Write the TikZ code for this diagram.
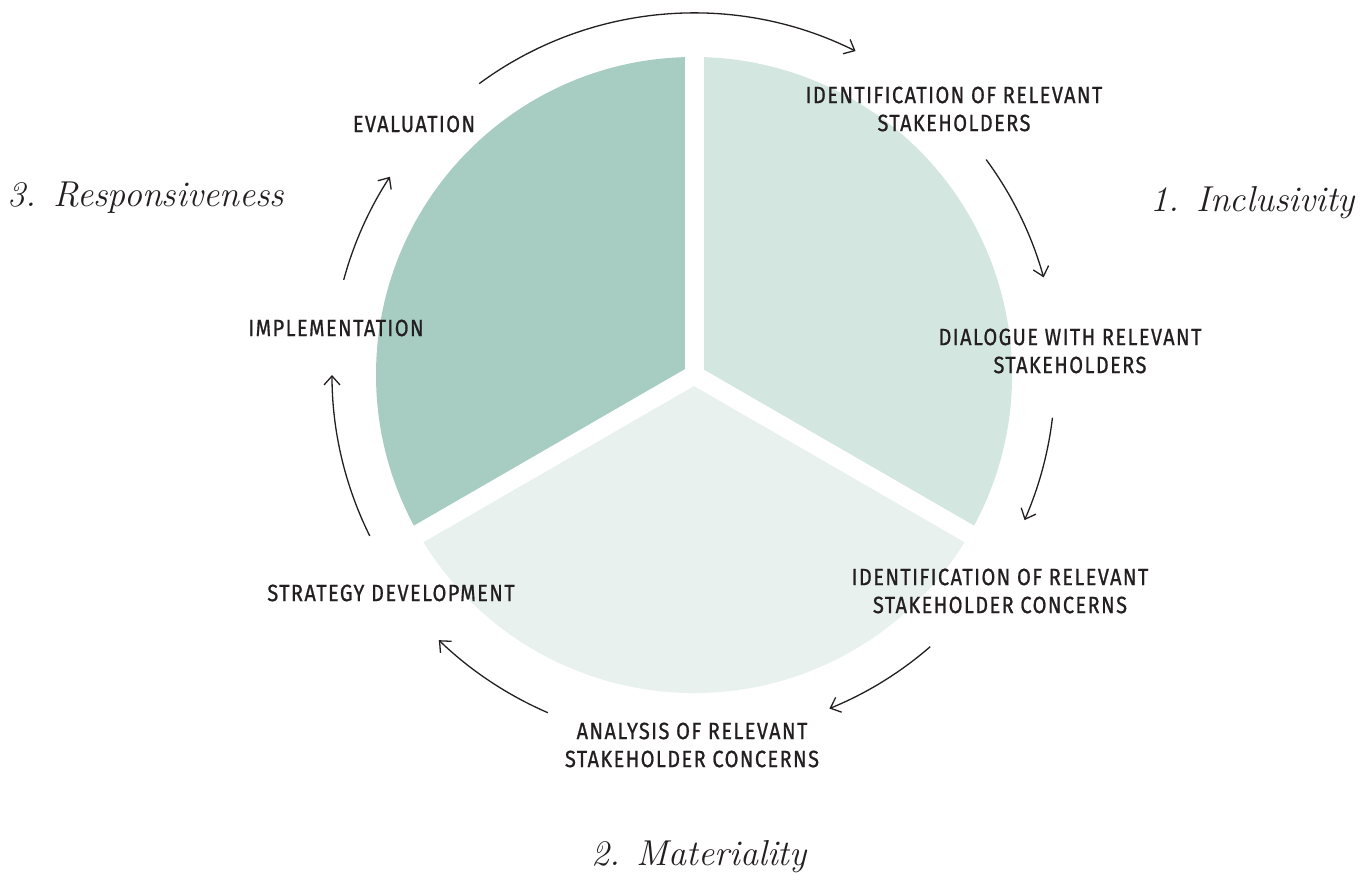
\documentclass[tikz,border=0pt]{standalone}
\usepackage{fontspec}
\setmainfont{Latin Modern Roman}
\newfontfamily\labelfont[FakeStretch=0.85,FakeBold=0.8,LetterSpace=6]{Fira Sans}
\usetikzlibrary{arrows.meta}
\definecolor{secA}{RGB}{167,205,194}
\definecolor{secB}{RGB}{211,230,223}
\definecolor{secC}{RGB}{232,241,238}
\definecolor{ink}{RGB}{35,31,32}
\tikzset{
  lbl/.style={text=ink, font=\labelfont\fontsize{23.5}{28}\selectfont, align=center, inner sep=0pt},
  script/.style={text=ink, font=\itshape\fontsize{36}{40}\selectfont, inner sep=0pt},
  arr/.style={draw=ink, line width=1.3pt, -{Straight Barb[length=9pt,width=16pt,line width=1.3pt]}},
  gap/.style={draw=white, line width=19pt, line cap=round}
}
\begin{document}
\begin{tikzpicture}[x=1pt,y=1pt]
\path[use as bounding box, fill=white] (0,0) rectangle (1370,881);
\coordinate (C) at (694,506);
% sectors
\fill[secA] (C) -- ++(90:318) arc[start angle=90,end angle=210,radius=318] -- cycle;
\fill[secC] (C) -- ++(210:318) arc[start angle=210,end angle=330,radius=318] -- cycle;
\fill[secB] (C) -- ++(330:318) arc[start angle=330,end angle=450,radius=318] -- cycle;
\coordinate (g1) at ([shift={(90:340)}]C);
\coordinate (g2) at ([shift={(210:340)}]C);
\coordinate (g3) at ([shift={(330:340)}]C);
\draw[gap] (C) -- (g1);
\draw[gap] (C) -- (g2);
\draw[gap] (C) -- (g3);
% labels
\node[lbl] (l1) at (954,772) {IDENTIFICATION OF RELEVANT\\STAKEHOLDERS};
\node[lbl] (l2) at (1070,530) {DIALOGUE WITH RELEVANT\\STAKEHOLDERS};
\node[lbl] (l3) at (1000,290) {IDENTIFICATION OF RELEVANT\\STAKEHOLDER CONCERNS};
\node[lbl] (l4) at (692,136) {ANALYSIS OF RELEVANT\\STAKEHOLDER CONCERNS};
\node[lbl] (l5) at (391,288) {STRATEGY DEVELOPMENT};
\node[lbl] (l6) at (336,553) {IMPLEMENTATION};
\node[lbl] (l7) at (414,757) {EVALUATION};
\node[script] (p1) at (1253,678) {1. Inclusivity};
\node[script] (p2) at (699,24) {2. Materiality};
\node[script] (p3) at (146,683) {3. Responsiveness};
% arrows
\coordinate (a1) at ([shift={(126.4:362)}]C);
\coordinate (a2) at ([shift={(36.4:363)}]C);
\coordinate (a3) at ([shift={(-6.8:361)}]C);
\coordinate (a4) at ([shift={(-49:360)}]C);
\coordinate (a5) at ([shift={(-113.4:368)}]C);
\coordinate (a6) at ([shift={(206.4:362)}]C);
\coordinate (a7) at ([shift={(164.8:363)}]C);
\draw[arr] (a1) arc[start angle=126.4,end angle=63.5,radius=362];
\draw[arr] (a2) arc[start angle=36.4,end angle=15.6,radius=363];
\draw[arr] (a3) arc[start angle=-6.8,end angle=-23.7,radius=361];
\draw[arr] (a4) arc[start angle=-49,end angle=-67.9,radius=360];
\draw[arr] (a5) arc[start angle=-113.4,end angle=-133.9,radius=368];
\draw[arr] (a6) arc[start angle=206.4,end angle=180,radius=362];
\draw[arr] (a7) arc[start angle=164.8,end angle=146.9,radius=363];
\end{tikzpicture}
\end{document}
